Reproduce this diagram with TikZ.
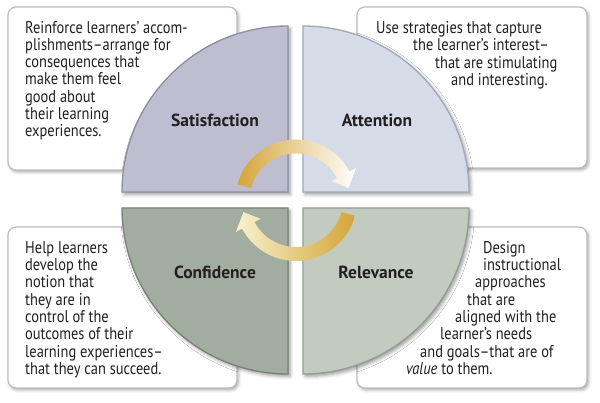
\documentclass[tikz,border=0pt]{standalone}
\usepackage{fontspec}
\setmainfont{PT Sans}[FakeStretch=0.85]
\newfontfamily\titlefont{PT Sans}
\usetikzlibrary{calc,shadows.blur}

\definecolor{ink}{HTML}{231F20}
\definecolor{boxedge}{HTML}{BDBDBD}
\definecolor{satfill}{HTML}{BEBED0}
\definecolor{satedge}{HTML}{8F8FA3}
\definecolor{attfill}{HTML}{D5DCE8}
\definecolor{attedge}{HTML}{A0A9B9}
\definecolor{confill}{HTML}{A1AD9E}
\definecolor{conedge}{HTML}{778274}
\definecolor{relfill}{HTML}{C3CBC1}
\definecolor{reledge}{HTML}{939D91}
\definecolor{gold}{HTML}{D4A438}
\definecolor{paleGold}{HTML}{F3E3B4}
\definecolor{cream}{HTML}{F7F2CE}
\definecolor{midCream}{HTML}{EEE3AE}

\begin{document}
\begin{tikzpicture}[x=1pt,y=1pt,
  note/.style={draw=boxedge, line width=1.2pt, fill=white, rounded corners=8pt,
    blur shadow={shadow xshift=1.5pt, shadow yshift=-2pt, shadow blur radius=3pt, shadow opacity=35}},
  quad/.style={line width=1.3pt,
    blur shadow={shadow xshift=2pt, shadow yshift=-2.5pt, shadow blur radius=3.5pt, shadow opacity=40}},
  txt/.style={anchor=base west, inner sep=0pt, text=ink, font=\fontsize{17}{17}\selectfont},
  qlabel/.style={inner sep=0pt, text=ink, font=\titlefont\fontsize{17.5}{17}\selectfont\bfseries}
]
\useasboundingbox (0,0) rectangle (600,403);

% text panels behind the circle
\path[note] (8,233) rectangle (237,396);
\path[note] (357,235) rectangle (587,396);
\path[note] (8,15) rectangle (237,176);
\path[note] (357,15) rectangle (587,176);

% the four quarter discs
\path[quad, fill=satfill, draw=satedge] (288,211) -- ++(-166,0)
  arc[start angle=180, end angle=90, radius=166] -- cycle;
\path[quad, fill=attfill, draw=attedge] (303,211) -- ++(0,166)
  arc[start angle=90, end angle=0, radius=166] -- cycle;
\path[quad, fill=confill, draw=conedge] (288,195) -- ++(-166,0)
  arc[start angle=180, end angle=270, radius=166] -- cycle;
\path[quad, fill=relfill, draw=reledge] (303,195) -- ++(166,0)
  arc[start angle=0, end angle=-90, radius=166] -- cycle;

% quadrant titles
\node[qlabel] (sat) at (215,282.5) {Satisfaction};
\node[qlabel] (att) at (377,282.5) {Attention};
\node[qlabel] (con) at (215,131) {Confidence};
\node[qlabel] (rel) at (376,131) {Relevance};

% cycle arrows around the centre
\coordinate (ctr) at (296,203);
\shade[left color=gold, middle color=paleGold, right color=white]
  ($(ctr)+(165:60.5)$) arc[start angle=165, end angle=28, radius=60.5]
  -- ($(ctr)+(28:68)$) -- ($(ctr)+(13:54)$) -- ($(ctr)+(28:40)$)
  -- ($(ctr)+(28:46.5)$) arc[start angle=28, end angle=165, radius=46.5] -- cycle;
\shade[left color=cream, middle color=midCream, right color=gold]
  ($(ctr)+(-15:61)$) arc[start angle=-15, end angle=-152, radius=61]
  -- ($(ctr)+(-152:68)$) -- ($(ctr)+(-167:54)$) -- ($(ctr)+(-152:40)$)
  -- ($(ctr)+(-152:47)$) arc[start angle=-152, end angle=-15, radius=47] -- cycle;

% Satisfaction text
\node[txt] (s1) at (25,369.7) {Reinforce learners’ accom-};
\node[txt] (s2) at (25,352.5) {plishments–arrange for};
\node[txt] (s3) at (25,335.3) {consequences that};
\node[txt] (s4) at (25,318.1) {make them feel};
\node[txt] (s5) at (25,300.9) {good about};
\node[txt] (s6) at (25,283.7) {their learning};
\node[txt] (s7) at (25,266.5) {experiences.};

% Attention text
\node[txt] (a1) at (376,369.3) {Use strategies that capture};
\node[txt] (a2) at (413,352.1) {the learner’s interest–};
\node[txt] (a3) at (435,334.9) {that are stimulating};
\node[txt] (a4) at (451,317.7) {and interesting.};

% Confidence text
\node[txt] (c1) at (25,149.7) {Help learners};
\node[txt] (c2) at (25,132.4) {develop the};
\node[txt] (c3) at (25,115.1) {notion that};
\node[txt] (c4) at (25,97.8) {they are in};
\node[txt] (c5) at (25,80.5) {control of the};
\node[txt] (c6) at (25,63.2) {outcomes of their};
\node[txt] (c7) at (25,45.9) {learning experiences–};
\node[txt] (c8) at (25,28.6) {that they can succeed.};

% Relevance text
\node[txt] (r1) at (483,149.7) {Design};
\node[txt] (r2) at (483,132.4) {instructional};
\node[txt] (r3) at (475,115.1) {approaches};
\node[txt] (r4) at (467,97.8) {that are};
\node[txt] (r5) at (455,80.5) {aligned with the};
\node[txt] (r6) at (440,63.2) {learner’s needs};
\node[txt] (r7) at (420,45.9) {and goals–that are of};
\node[txt] (r8) at (406,28.6) {\textit{value} to them.};
\end{tikzpicture}
\end{document}
